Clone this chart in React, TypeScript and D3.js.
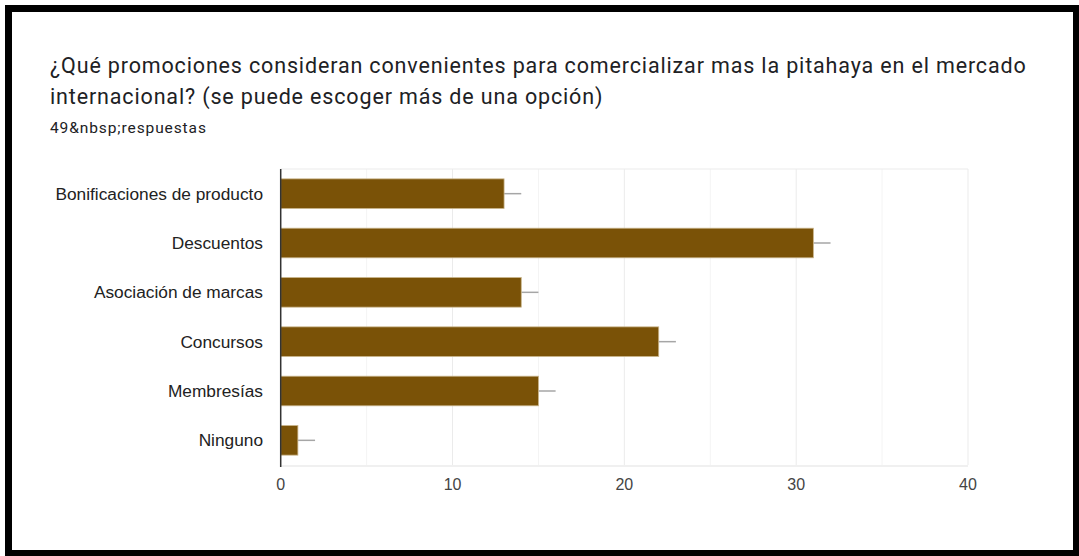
import React from "react";
import * as d3 from "d3";

const categories = [
  "Bonificaciones de producto",
  "Descuentos",
  "Asociación de marcas",
  "Concursos",
  "Membresías",
  "Ninguno",
];
const values = [13, 31, 14, 22, 15, 1];
const errors = [1, 1, 1, 1, 1, 1];
const majorTicks = [0, 10, 20, 30, 40];
const minorTicks = [5, 15, 25, 35];

const titleLine1 =
  "¿Qué promociones consideran convenientes para comercializar mas la pitahaya en el mercado";
const titleLine2 = "internacional? (se puede escoger más de una opción)";
const subtitle = "49&nbsp;respuestas";

export default function App() {
  const W = 1079;
  const H = 556;
  const x = d3.scaleLinear().domain([0, 40]).range([280.7, 968]);
  const y = d3.scaleBand().domain(categories).range([169, 465]).paddingInner(0.4).paddingOuter(0.2);
  const top = 169;
  const bottom = 465;
  return (
    <svg
      width={W}
      height={H}
      style={{ position: "absolute", left: 0, top: 0, background: "#fff" }}
    >
      <rect x={8.5} y={8.5} width={1068} height={545} fill="#fff" stroke="#000" strokeWidth={7} />
      <text x={50} y={73} fontFamily="Roboto" fontSize={21.5} letterSpacing={0.85} fill="#202124">
        {titleLine1}
      </text>
      <text x={50} y={104} fontFamily="Roboto" fontSize={21.5} letterSpacing={0.85} fill="#202124">
        {titleLine2}
      </text>
      <text x={50} y={133} fontFamily="Roboto" fontSize={15.5} letterSpacing={0.9} fill="#202124">
        {subtitle}
      </text>
      {minorTicks.map((t) => (
        <line key={"m" + t} x1={x(t)} x2={x(t)} y1={top} y2={bottom} stroke="#f4f4f4" strokeWidth={1} />
      ))}
      {majorTicks.map((t) => (
        <line key={"g" + t} x1={x(t)} x2={x(t)} y1={top} y2={bottom} stroke="#ebebeb" strokeWidth={1} />
      ))}
      <line x1={x(0)} x2={x(40)} y1={top} y2={top} stroke="#ebebeb" strokeWidth={1} />
      <line x1={x(0)} x2={x(40)} y1={bottom + 1} y2={bottom + 1} stroke="#ebebeb" strokeWidth={1.5} />
      {categories.map((c, i) => {
        const by = y(c)!;
        const bh = y.bandwidth();
        const cy = by + bh / 2;
        return (
          <g key={c}>
            <line
              x1={x(values[i])}
              x2={x(values[i] + errors[i])}
              y1={cy}
              y2={cy}
              stroke="#a6a6a6"
              strokeWidth={1.5}
            />
            <rect
              x={x(0)}
              y={by}
              width={x(values[i]) - x(0)}
              height={bh}
              fill="#7a5207"
              stroke="#c9b48a"
              strokeWidth={0.8}
            />
            <text
              x={263}
              y={cy + 6}
              textAnchor="end"
              fontFamily="Liberation Sans, Arial"
              fontSize={17.3}
              fill="#222"
            >
              {c}
            </text>
          </g>
        );
      })}
      <line x1={x(0)} x2={x(0)} y1={top} y2={bottom + 2} stroke="#333" strokeWidth={1.5} />
      {majorTicks.map((t) => (
        <text
          key={"t" + t}
          x={x(t)}
          y={490}
          textAnchor="middle"
          fontFamily="Liberation Sans, Arial"
          fontSize={16}
          fill="#444"
        >
          {t}
        </text>
      ))}
    </svg>
  );
}
